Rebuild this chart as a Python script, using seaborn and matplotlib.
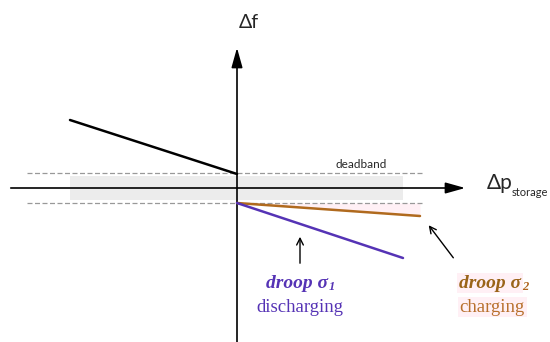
import numpy as np
import pandas as pd
import matplotlib.pyplot as plt
import seaborn as sns

# schematic droop characteristic (units ~ pixels, origin at the axes crossing)
black_p = [-167, 0]
black_f = [68, 14]
charge_p = [0, 183]
charge_f = [-15, -28]
discharge_p = [0, 166]
discharge_f = [-15, -70]
deadband = 15
band_half = 12
band_left, band_right = -167, 166

purple = "#5533b5"
brown = "#b06a1e"

sns.set_theme(style="white")
plt.rcParams["font.family"] = ["Lato", "DejaVu Sans"]

fig = plt.figure(figsize=(5.5, 3.42), dpi=100)
ax = fig.add_axes([0, 0, 1, 1])
ax.set_xlim(-237, 313)
ax.set_ylim(-154, 188)
ax.axis("off")

# grey deadband area
ax.fill_between([band_left, band_right], -band_half, band_half, color="#ececec", lw=0, zorder=0)
# faint pink highlight under charging line
ax.fill_between(charge_p, [-deadband, -deadband], charge_f, color="#fff0f5", lw=0, zorder=0)

# dashed deadband limits
for yy in (deadband, -deadband):
    ax.plot([-210, 186], [yy, yy], ls=(0, (4, 2)), color="#999999", lw=0.9, zorder=1)

# axes with arrows
ax.annotate("", xy=(231, 0), xytext=(-229, 0),
            arrowprops=dict(arrowstyle="-|>,head_length=1.0,head_width=0.28", color="black", lw=1.2))
ax.annotate("", xy=(0, 143), xytext=(0, -160),
            arrowprops=dict(arrowstyle="-|>,head_length=1.0,head_width=0.28", color="black", lw=1.2))

lines = pd.DataFrame({
    "p": black_p + charge_p + discharge_p,
    "f": black_f + charge_f + discharge_f,
    "seg": ["black"] * 2 + ["charge"] * 2 + ["discharge"] * 2,
})
sns.lineplot(data=lines, x="p", y="f", hue="seg", sort=False, estimator=None,
             palette={"black": "black", "charge": brown, "discharge": purple},
             lw=1.8, legend=False, ax=ax, zorder=3)

# pointer arrows
ax.annotate("", xy=(63, -46), xytext=(63, -78),
            arrowprops=dict(arrowstyle="->", color="black", lw=1))
ax.annotate("", xy=(190, -35), xytext=(218, -72),
            arrowprops=dict(arrowstyle="->", color="black", lw=1))

# labels
ax.text(12, 165, "Δf", fontsize=14, ha="center", va="center")
ax.text(124, 24, "deadband", fontsize=8.5, ha="center", va="center")
ax.text(263, 5, "Δp", fontsize=15, ha="center", va="center")
ax.text(275, -4, "storage", fontsize=8, ha="left", va="center")

serif = ["Liberation Serif", "DejaVu Serif"]
ax.text(60, -95, "droop σ", fontsize=14, ha="center", va="center", color=purple,
        family=serif, weight="bold", style="italic")
ax.text(95, -99, "1", fontsize=9, ha="center", va="center", color=purple,
        family=serif, weight="bold", style="italic")
ax.text(63, -119, "discharging", fontsize=13.5, ha="center", va="center", color=purple, family=serif)

ax.text(253, -95, "droop σ", fontsize=14, ha="center", va="center", color="#9a6418",
        family=serif, weight="bold", style="italic",
        bbox=dict(boxstyle="square,pad=0.1", fc="#fff0f5", ec="none"))
ax.text(288, -99, "2", fontsize=9, ha="center", va="center", color="#b0641e",
        family=serif, weight="bold", style="italic")
ax.text(255, -119, "charging", fontsize=13.5, ha="center", va="center", color="#b8702c", family=serif,
        bbox=dict(boxstyle="square,pad=0.1", fc="#fff0f5", ec="none"))

fig.savefig("out.png", dpi=100)
